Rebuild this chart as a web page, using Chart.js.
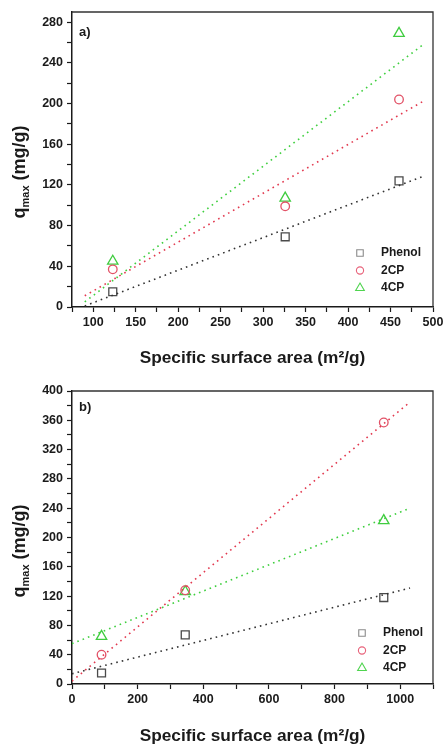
<!DOCTYPE html>
<html>
<head>
<meta charset="utf-8">
<script src="https://cdn.jsdelivr.net/npm/chart.js@4.4.1/dist/chart.umd.min.js"></script>
<style>
  html, body { margin: 0; padding: 0; background: #fff; }
  #wrap { position: relative; width: 448px; height: 746px; overflow: hidden; }
  canvas { position: absolute; left: 0; }
</style>
</head>
<body>
<div id="wrap">
  <canvas id="chartA" width="448" height="373" style="top:0"></canvas>
  <canvas id="chartB" width="448" height="373" style="top:373px"></canvas>
</div>
<script>
// panel a) - q_max vs specific surface area
const surfA = [123, 326, 460];
const phenolA = [15, 69, 124];
const cp2A = [37, 99, 204];
const cp4A = [45, 107, 269];
// fitted lines (ends)
const fitXA = [90, 490];
const fitPhenolA = [1, 129];
const fit2cpA = [11, 203];
const fit4cpA = [5, 259];

// panel b)
const surfB = [90, 345, 950];
const phenolB = [15, 67, 118];
const cp2B = [40, 128, 357];
const cp4B = [65, 126, 223];
const fitXB = [0, 1030];
const fitPhenolB = [14, 131];
const fit2cpB = [4, 385];
const fit4cpB = [55, 240];

const seriesNames = ['Phenol', '2CP', '4CP'];
const FONT = '"Liberation Sans", Arial, sans-serif';
const INK = '#1a1a1a';

const lineCol = ['#333333', '#e2394f', '#3fcf3f'];
const markCol = ['#4a4a4a', '#e25267', '#3fcc3f'];
const legendCol = ['#8a8a8a', '#e8627a', '#4fd44f'];
const shapes = ['rect', 'circle', 'triangle'];
const radii = [5.6, 4.3, 6];

function pts(xs, ys) { return xs.map((x, i) => ({ x: x, y: ys[i] })); }

function buildDatasets(xs, ysList, fitX, fitList) {
  const ds = [];
  fitList.forEach((f, i) => {
    ds.push({
      label: seriesNames[i] + ' fit',
      data: pts(fitX, f),
      showLine: true,
      borderColor: lineCol[i],
      borderWidth: 1.6,
      borderDash: [1.6, 4.1],
      pointRadius: 0,
      fill: false
    });
  });
  ysList.forEach((ys, i) => {
    ds.push({
      label: seriesNames[i],
      data: pts(xs, ys),
      showLine: false,
      pointStyle: shapes[i],
      pointRadius: radii[i],
      pointBorderColor: markCol[i],
      pointBackgroundColor: 'rgba(0,0,0,0)',
      pointBorderWidth: 1.3
    });
  });
  return ds;
}

// frame, axis titles, panel letter and legend
const decor = {
  id: 'decor',
  afterDraw(chart, args, opts) {
    const ctx = chart.ctx;
    const a = chart.chartArea;
    ctx.save();
    ctx.strokeStyle = '#333';
    ctx.lineWidth = 1.3;
    ctx.beginPath();
    ctx.moveTo(a.left, a.top);
    ctx.lineTo(a.right, a.top);
    ctx.lineTo(a.right, a.bottom);
    ctx.stroke();

    ctx.fillStyle = INK;
    // panel letter
    ctx.font = 'bold 13px ' + FONT;
    ctx.textBaseline = 'middle';
    ctx.textAlign = 'left';
    ctx.fillText(opts.letter, a.left + 7, a.top + opts.letterDy);

    // x title
    ctx.font = 'bold 17.3px ' + FONT;
    ctx.textAlign = 'center';
    ctx.fillText('Specific surface area (m\u00b2/g)', (a.left + a.right) / 2, opts.xTitleY);

    // y title: q with subscript max
    const big = 'bold 18px ' + FONT, small = 'bold 11px ' + FONT;
    ctx.font = big; const wq = ctx.measureText('q').width;
    const wu = ctx.measureText(' (mg/g)').width;
    ctx.font = small; const wm = ctx.measureText('max').width;
    const total = wq + wm + wu;
    ctx.translate(opts.yTitleX, opts.yTitleC);
    ctx.rotate(-Math.PI / 2);
    ctx.textAlign = 'left';
    ctx.textBaseline = 'alphabetic';
    let x0 = -total / 2;
    ctx.font = big; ctx.fillText('q', x0, 6);
    ctx.font = small; ctx.fillText('max', x0 + wq, 10);
    ctx.font = big; ctx.fillText(' (mg/g)', x0 + wq + wm, 6);
    ctx.restore();

    // legend
    ctx.save();
    ctx.font = 'bold 12px ' + FONT;
    ctx.textBaseline = 'middle';
    ctx.textAlign = 'left';
    seriesNames.forEach((n, i) => {
      const y = opts.legY + i * 17.5;
      ctx.fillStyle = 'rgba(0,0,0,0)';
      ctx.strokeStyle = legendCol[i];
      ctx.lineWidth = 1.1;
      Chart.helpers.drawPoint(ctx, {
        pointStyle: shapes[i], radius: [4.6, 3.6, 5][i], borderWidth: 1.1, rotation: 0
      }, opts.legX, y);
      ctx.fillStyle = INK;
      ctx.fillText(n, opts.legX + 21, y);
    });
    ctx.restore();
  }
};

function makeChart(id, datasets, xCfg, yCfg, xHeight, padTop, decorOpts) {
  return new Chart(document.getElementById(id), {
    type: 'scatter',
    data: { datasets: datasets },
    options: {
      responsive: false,
      animation: false,
      layout: { padding: { top: padTop, right: 15, left: 0, bottom: 0 } },
      plugins: { legend: { display: false }, tooltip: { enabled: false }, decor: decorOpts },
      scales: {
        x: {
          type: 'linear',
          min: xCfg.min, max: xCfg.max,
          afterFit: s => { s.height = xHeight; },
          border: { color: INK, width: 1.5 },
          grid: { drawOnChartArea: false, drawTicks: true, tickLength: 5, tickColor: INK, tickWidth: 1.2 },
          ticks: {
            stepSize: xCfg.step, padding: 3, color: INK, maxRotation: 0, autoSkip: false,
            includeBounds: false,
            font: { family: FONT, size: 12.5, weight: 'bold' },
            callback: v => (v % xCfg.label === 0 ? v : '')
          }
        },
        y: {
          min: yCfg.min, max: yCfg.max,
          afterFit: s => { s.width = 72; },
          border: { color: INK, width: 1.5 },
          grid: { drawOnChartArea: false, drawTicks: true, tickLength: 5, tickColor: INK, tickWidth: 1.2 },
          ticks: {
            stepSize: yCfg.step, padding: 4, color: INK, autoSkip: false,
            includeBounds: false,
            font: { family: FONT, size: 12.5, weight: 'bold' },
            callback: v => (v % yCfg.label === 0 ? v : '')
          }
        }
      }
    },
    plugins: [decor]
  });
}

makeChart('chartA',
  buildDatasets(surfA, [phenolA, cp2A, cp4A], fitXA, [fitPhenolA, fit2cpA, fit4cpA]),
  { min: 75, max: 500, step: 25, label: 50 },
  { min: 0, max: 290, step: 20, label: 40 },
  66, 12,
  { letter: 'a)', letterDy: 20, xTitleY: 358, yTitleX: 19, yTitleC: 172, legX: 360, legY: 253 });

makeChart('chartB',
  buildDatasets(surfB, [phenolB, cp2B, cp4B], fitXB, [fitPhenolB, fit2cpB, fit4cpB]),
  { min: 0, max: 1100, step: 100, label: 200 },
  { min: 0, max: 400, step: 20, label: 40 },
  62, 18,
  { letter: 'b)', letterDy: 16, xTitleY: 363, yTitleX: 19, yTitleC: 178, legX: 362, legY: 260 });
</script>
</body>
</html>
